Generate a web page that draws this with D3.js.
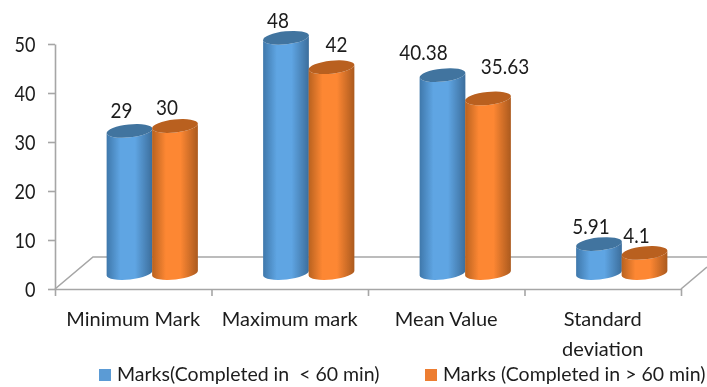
<!DOCTYPE html>
<html>
<head>
<meta charset="utf-8">
<script src="https://cdn.jsdelivr.net/npm/d3@7"></script>
<style>
body { margin: 0; background: #fff; }
svg { filter: blur(0.35px); }
text { font-family: Lato, "Open Sans", sans-serif; fill: #1c1c1c; }
</style>
</head>
<body>
<div id="chart"></div>
<script>
// Values
const categories = ["Minimum Mark", "Maximum mark", "Mean Value", "Standard deviation"];
const seriesNames = ["Marks(Completed in  < 60 min)", "Marks (Completed in > 60 min)"];
const under60 = [29, 48, 40.38, 5.91];
const over60 = [30, 42, 35.63, 4.1];
const yTicks = [0, 10, 20, 30, 40, 50];

const width = 707, height = 387;
const rx = 23, ry = 6.5, tilt = -6;
const depthX = 38, depthY = 32;   // floor depth of the fake 3d box
const floorLift = 16;             // cylinders stand this far above the front edge

// [left edge, mid, right edge, top ellipse]
const blueShades = ["#3f78ab", "#5fa5e3", "#3c6e9c", "#41749f"];
const orangeShades = ["#b9621f", "#fd8733", "#ab5a1e", "#b9601f"];
const seriesShades = [blueShades, orangeShades];

const svg = d3.select("#chart").append("svg")
    .attr("width", width)
    .attr("height", height);

const xBand = d3.scaleBand().domain(categories).range([55, 681]);
const xSeries = d3.scaleBand().domain([0, 1]).range([-45.5, 45.5]);
const xTickScale = d3.scaleLinear().domain([0, 4]).range([55, 681]);
const yScale = d3.scaleLinear().domain([0, 50]).range([289, 44]);

// Lato is wider than the original font, digits need squeezing to look right
function squeeze(sel, k) {
    sel.each(function() {
        const w = this.getComputedTextLength();
        d3.select(this)
            .attr("textLength", w * k)
            .attr("lengthAdjust", "spacingAndGlyphs");
    });
}

// Gradients across each cylinder
const defs = svg.append("defs");
seriesShades.forEach(function(shades, i) {
    const grad = defs.append("linearGradient").attr("id", "cyl" + i);
    grad.append("stop").attr("offset", "0%").attr("stop-color", shades[0]);
    grad.append("stop").attr("offset", "30%").attr("stop-color", shades[1]);
    grad.append("stop").attr("offset", "62%").attr("stop-color", shades[1]);
    grad.append("stop").attr("offset", "100%").attr("stop-color", shades[2]);
});

//////////////////////////////////////////////////////////////////////////////
// Floor and axes

const axisColor = "#a6a6a6";

svg.append("path")
    .attr("d", "M55,289 L" + (55 + depthX) + "," + (289 - depthY) +
               " L" + width + "," + (289 - depthY))
    .attr("fill", "none")
    .attr("stroke", axisColor)
    .attr("stroke-width", 1.6);

svg.append("path")
    .attr("d", "M681,289 L" + width + "," + (289 - 22))
    .attr("fill", "none")
    .attr("stroke", axisColor)
    .attr("stroke-width", 1.6);

const yAxis = svg.append("g")
    .attr("transform", "translate(55,0)")
    .call(d3.axisLeft(yScale).tickValues(yTicks).tickSize(7).tickSizeOuter(0));

const xAxis = svg.append("g")
    .attr("transform", "translate(0,289)")
    .call(d3.axisBottom(xTickScale).ticks(4).tickSize(7).tickSizeOuter(0).tickFormat(""));

svg.selectAll(".domain, .tick line")
    .attr("stroke", axisColor)
    .attr("stroke-width", 1.6);

yAxis.selectAll("text")
    .attr("x", -19.5)
    .attr("dy", "0.36em")
    .style("font-size", "21px")
    .call(squeeze, 0.86);

//////////////////////////////////////////////////////////////////////////////
// Cylinders

function cylinderPath(cx, top, base) {
    const a = tilt * Math.PI / 180;
    const dx = rx * Math.cos(a), dy = rx * Math.sin(a);
    return "M" + (cx - dx) + "," + (top - dy) +
        " L" + (cx - dx) + "," + (base - dy) +
        " A" + rx + "," + ry + " " + tilt + " 0 0 " + (cx + dx) + "," + (base + dy) +
        " L" + (cx + dx) + "," + (top + dy) +
        " A" + rx + "," + ry + " " + tilt + " 0 1 " + (cx - dx) + "," + (top - dy) + " Z";
}

const seriesValues = [under60, over60];

// Nudges of the value labels, the original had them dragged by hand
const labelDx = [[-8, -8], [-8, 5], [-19, 17], [-8, -8]];
const labelDy = [[-20, -19], [-17, -23], [-23, -32], [-18, -17]];

seriesValues.forEach(function(values, s) {
    const g = svg.append("g");
    const rows = categories.map(function(c, i) {
        return { cat: c, index: i, value: values[i] };
    });

    const cx = function(d) {
        return xBand(d.cat) + xBand.bandwidth() / 2 + 19 + xSeries(s) + xSeries.bandwidth() / 2;
    };
    const topY = function(d) { return yScale(d.value) - floorLift; };

    g.selectAll("path")
        .data(rows)
        .enter()
        .append("path")
        .attr("d", function(d) { return cylinderPath(cx(d), topY(d), yScale(0) - floorLift); })
        .attr("fill", "url(#cyl" + s + ")");

    g.selectAll("ellipse")
        .data(rows)
        .enter()
        .append("ellipse")
        .attr("rx", rx)
        .attr("ry", ry)
        .attr("transform", function(d) {
            return "translate(" + cx(d) + "," + topY(d) + ") rotate(" + tilt + ")";
        })
        .attr("fill", seriesShades[s][3]);

    g.selectAll("text")
        .data(rows)
        .enter()
        .append("text")
        .attr("x", function(d) { return cx(d) + labelDx[d.index][s]; })
        .attr("y", function(d) { return topY(d) + labelDy[d.index][s]; })
        .attr("dy", "0.36em")
        .attr("text-anchor", "middle")
        .style("font-size", "21px")
        .text(function(d) { return d.value; })
        .call(squeeze, 0.9);
});

//////////////////////////////////////////////////////////////////////////////
// Category labels, wrapped the same way as the original

const catLabels = svg.append("g")
    .selectAll("text")
    .data(categories)
    .enter()
    .append("text")
    .attr("text-anchor", "middle")
    .attr("y", 326)
    .style("font-size", "20px");

catLabels.each(function(d) {
    const el = d3.select(this);
    const x = xBand(d) + xBand.bandwidth() / 2;
    const lines = d === "Standard deviation" ? d.split(" ") : [d];
    lines.forEach(function(line, i) {
        el.append("tspan")
            .attr("x", x)
            .attr("y", 326 + i * 30)
            .text(line);
    });
});

//////////////////////////////////////////////////////////////////////////////
// Legend

const legendX = [99, 425];
const legendFill = ["#5b9bd5", "#ed7d31"];

const legend = svg.append("g")
    .selectAll("g")
    .data(seriesNames)
    .enter()
    .append("g")
    .attr("transform", function(d, i) { return "translate(" + legendX[i] + ",0)"; });

legend.append("rect")
    .attr("y", 369)
    .attr("width", 12)
    .attr("height", 12)
    .attr("fill", function(d, i) { return legendFill[i]; });

legend.append("text")
    .attr("x", 18)
    .attr("y", 381)
    .style("font-size", "19.5px")
    .style("white-space", "pre")
    .text(function(d) { return d; });
</script>
</body>
</html>
